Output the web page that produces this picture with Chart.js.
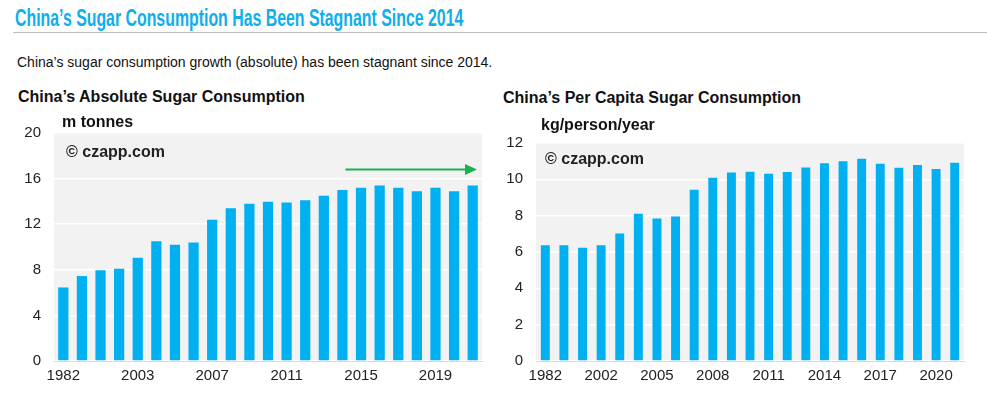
<!DOCTYPE html>
<html>
<head>
<meta charset="utf-8">
<script src="https://cdn.jsdelivr.net/npm/chart.js@4/dist/chart.umd.min.js"></script>
<style>
  html, body { margin: 0; padding: 0; background: #fff; }
  body { width: 987px; height: 396px; position: relative; overflow: hidden; font-family: "Liberation Sans", Arial, sans-serif; }
  .abs { position: absolute; white-space: nowrap; }
  #title { left: 15px; top: 4px; font-family: "Liberation Sans", Arial, sans-serif; font-weight: bold; font-size: 23px; color: #0FAEEC; line-height: 28px; transform: scaleX(0.69); transform-origin: 0 50%; }
  #rule { left: 13px; top: 32px; width: 974px; height: 0; border-top: 1px solid #BDBDBD; }
  #sub { left: 17px; top: 52px; font-size: 14px; color: #111; line-height: 20px; }
  .ct { font-weight: bold; font-size: 16px; color: #111; line-height: 20px; }
  .unit { font-weight: bold; font-size: 16px; color: #111; line-height: 20px; }
  .copy { font-weight: bold; font-size: 16px; color: #222; line-height: 20px; }
  canvas { position: absolute; }
</style>
</head>
<body>
<div class="abs" id="title">China’s Sugar Consumption Has Been Stagnant Since 2014</div>
<div class="abs" id="rule"></div>
<div class="abs" id="sub">China’s sugar consumption growth (absolute) has been stagnant since 2014.</div>
<div class="abs ct" style="left:18px; top:87px;">China’s Absolute Sugar Consumption</div>
<div class="abs ct" style="left:503px; top:88px;">China’s Per Capita Sugar Consumption</div>

<div style="position:absolute; left:0; top:100px; width:490px; height:296px;"><canvas id="c1"></canvas></div>
<div style="position:absolute; left:490px; top:100px; width:497px; height:296px;"><canvas id="c2"></canvas></div>

<div class="abs unit" style="left:62px; top:112px;">m tonnes</div>
<div class="abs unit" style="left:541px; top:115px;">kg/person/year</div>
<div class="abs copy" style="left:66px; top:142px;">© czapp.com</div>
<div class="abs copy" style="left:545px; top:149px;">© czapp.com</div>

<script>
// ---- Data ----
const years = ["1982","1990","2000","2002","2003","2004","2005","2006","2007","2008","2009","2010",
               "2011","2012","2013","2014","2015","2016","2017","2018","2019","2020","2021"];
const absoluteConsumption = [6.45, 7.45, 7.95, 8.1, 9.05, 10.5, 10.2, 10.4, 12.4, 13.4, 13.8, 13.97,
                             13.9, 14.1, 14.5, 15.0, 15.2, 15.4, 15.2, 14.9, 15.2, 14.9, 15.4];
const perCapitaConsumption = [6.37, 6.37, 6.24, 6.37, 7.02, 8.11, 7.84, 7.96, 9.42, 10.09, 10.37, 10.42,
                              10.31, 10.40, 10.65, 10.89, 11.0, 11.13, 10.86, 10.64, 10.79, 10.57, 10.91];
const leftTicks = [0, 4, 8, 12, 16, 20];
const rightTicks = [0, 2, 4, 6, 8, 10, 12];
const leftLabelStep = 4;
const rightLabelStep = 3;
const arrowFrom = { index: 15, value: 16.8 };

const BAR = "#00B0F0";
const BG = "#F2F2F2";
const TICK_FONT = { family: "'Liberation Sans', Arial, sans-serif", size: 15 };

const bgPlugin = {
  id: "plotBg",
  beforeDraw(chart) {
    const { ctx, chartArea: a } = chart;
    ctx.save();
    ctx.fillStyle = BG;
    ctx.fillRect(a.left, a.top, a.right - a.left, a.bottom - a.top);
    ctx.restore();
  }
};

const arrowPlugin = {
  id: "arrow",
  afterDatasetsDraw(chart, args, opts) {
    if (!opts || !opts.on) return;
    const { ctx, chartArea: a, scales } = chart;
    const x0 = scales.x.getPixelForValue(arrowFrom.index) + 3;
    const x1 = a.right - 5;
    const y = scales.y.getPixelForValue(arrowFrom.value);
    ctx.save();
    ctx.strokeStyle = "#1DB14E";
    ctx.fillStyle = "#1DB14E";
    ctx.lineWidth = 2;
    ctx.beginPath();
    ctx.moveTo(x0, y);
    ctx.lineTo(x1 - 10, y);
    ctx.stroke();
    ctx.beginPath();
    ctx.moveTo(x1, y);
    ctx.lineTo(x1 - 12, y - 5.5);
    ctx.lineTo(x1 - 12, y + 5.5);
    ctx.closePath();
    ctx.fill();
    ctx.restore();
  }
};

function makeChart(id, values, ticks, max, step, yWidth, xHeight, pad, barPct, arrow) {
  return new Chart(document.getElementById(id), {
    type: "bar",
    data: {
      labels: years,
      datasets: [{ data: values, backgroundColor: BAR, borderWidth: 0,
                   barPercentage: barPct, categoryPercentage: 1.0 }]
    },
    options: {
      responsive: true,
      maintainAspectRatio: false,
      animation: false,
      layout: { padding: pad },
      plugins: { legend: { display: false }, tooltip: { enabled: false }, arrow: { on: arrow } },
      scales: {
        x: {
          grid: { display: false, drawTicks: false },
          border: { display: true, color: "#D9D9D9", width: 1 },
          ticks: {
            autoSkip: false, maxRotation: 0, color: "#222", font: TICK_FONT, padding: 6,
            callback: function(v, i) { return i % step === 0 ? years[i] : ""; }
          },
          afterFit(s) { s.height = xHeight; }
        },
        y: {
          min: 0, max: max,
          grid: { color: "#FFFFFF", lineWidth: 1.5, drawTicks: false },
          border: { display: false },
          afterBuildTicks(s) { s.ticks = ticks.map(v => ({ value: v })); },
          ticks: { color: "#222", font: TICK_FONT, padding: 13 },
          afterFit(s) { s.width = yWidth; }
        }
      }
    },
    plugins: [bgPlugin, arrowPlugin]
  });
}

makeChart("c1", absoluteConsumption, leftTicks, 20, leftLabelStep, 54, 35,
          { top: 33, right: 8, left: 0, bottom: 0 }, 0.55, true);
makeChart("c2", perCapitaConsumption, rightTicks, 12, rightLabelStep, 46, 35,
          { top: 43, right: 23, left: 0, bottom: 0 }, 0.48, false);
</script>
</body>
</html>
